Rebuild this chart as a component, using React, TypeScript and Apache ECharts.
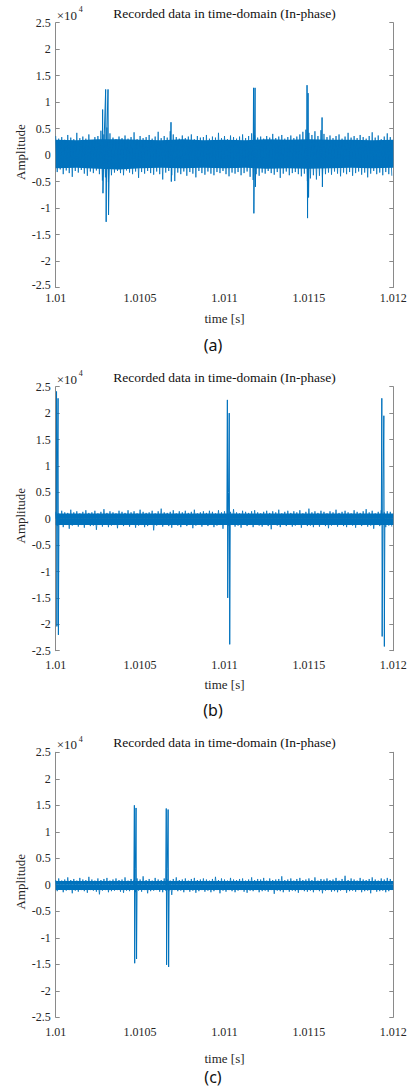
import React, { useEffect, useRef } from "react";
import * as echarts from "echarts";

// ---------- axes / texts ----------
const X_MIN_MS = 1010;
const X_MAX_MS = 1012;
const X_STEP_MS = 0.5;
const Y_MIN = -25000;
const Y_MAX = 25000;
const Y_STEP = 5000;
const TITLE = "Recorded data in time-domain (In-phase)";
const X_NAME = "time [s]";
const Y_NAME = "Amplitude";
const EXP_BASE = "×10";
const EXP_POWER = "4";
const PANEL_LABELS = ["(a)", "(b)", "(c)"];

// ---------- dense noise core (upper / lower edge, every 0.125 ms) ----------
const A_CORE_HI = [2900, 2800, 3000, 3000, 2900, 2800, 3000, 2800, 2900, 2800, 3000, 2900, 3000, 2900, 2900, 2800, 2900];
const A_CORE_LO = [-2500, -2400, -2600, -2700, -2500, -2400, -2500, -2400, -2500, -2400, -2600, -2500, -2600, -2500, -2400, -2500, -2400];
const B_CORE_HI = [1000, 1000, 1000, 1000, 1000, 1000, 1000, 1000, 1000, 1000, 1000, 1000, 1000, 1000, 1000, 1000, 1000];
const B_CORE_LO = [-1200, -1200, -1200, -1200, -1200, -1200, -1200, -1200, -1200, -1200, -1200, -1200, -1200, -1200, -1200, -1200, -1200];
const C_CORE_HI = [700, 700, 700, 700, 700, 700, 700, 700, 700, 700, 700, 700, 700, 700, 700, 700, 700];
const C_CORE_LO = [-1000, -1000, -1000, -1000, -1000, -1000, -1000, -1000, -1000, -1000, -1000, -1000, -1000, -1000, -1000, -1000, -1000];

// ---------- noise envelope (peaks / troughs) ----------
const A_TOP = [
  3600, 3100, 3400, 2900, 3800, 3300, 3000, 4200, 3200, 3500,
  3100, 3900, 2800, 3400, 3600, 4600, 3900, 5200, 4100, 3300,
  3000, 3500, 3200, 3700, 3100, 3400, 4300, 3000, 3600, 3200,
  3400, 3800, 3100, 3500, 4400, 3200, 3600, 3300, 4500, 3900,
  3400, 3100, 3700, 3200, 3500, 3900, 3000, 3600, 3300, 3400,
  3800, 3100, 3500, 3300, 4200, 3200, 3600, 3000, 3700, 3400,
  3100, 3500, 3900, 3200, 3600, 4100, 3700, 3300, 3500, 3100,
  3600, 3300, 4000, 3200, 3500, 3800, 3100, 3400, 3700, 3200,
  3500, 3900, 4400, 4800, 4200, 3800, 4500, 3600, 4700, 4000,
  3400, 3700, 3200, 3600, 3900, 3100, 3500, 4200, 3300, 3600,
  3200, 3800, 3400, 3100, 3600, 4300, 3300, 3700, 3000, 3500,
  4100, 3400,
];
const A_BOT = [
  -3200, -2700, -3600, -2900, -3400, -4100, -3000, -3300, -2800, -3500,
  -3900, -3100, -3400, -2900, -3600, -4800, -4200, -5100, -3800, -3300,
  -3000, -3400, -3800, -2900, -3300, -3600, -3100, -4300, -3200, -3500,
  -3000, -3400, -3700, -3100, -3600, -4600, -3300, -3000, -3800, -4900,
  -3300, -3600, -3100, -3900, -3200, -3500, -4200, -3000, -3400, -3700,
  -3100, -3500, -3800, -3200, -3400, -3000, -3600, -4000, -3300, -3500,
  -3200, -3800, -3400, -3100, -4100, -4700, -3600, -3900, -3300, -3500,
  -3000, -3400, -3700, -3200, -4300, -3500, -3100, -3800, -3400, -3200,
  -3600, -4000, -3500, -4900, -4400, -3800, -4600, -3900, -4200, -3600,
  -3300, -3700, -3100, -3500, -4000, -3300, -3600, -3200, -3900, -3400,
  -3100, -3700, -3300, -4200, -3500, -3000, -3600, -3300, -3800, -3200,
  -3600, -3900,
];
const B_TOP = [
  1300, 1000, 1500, 1200, 1100, 1700, 1200, 1400, 1000, 1300,
  1600, 1100, 1200, 1500, 1000, 1300, 1800, 1100, 1400, 1200,
  1000, 1500, 1300, 1100, 1600, 1200, 1400, 1000, 1700, 1300,
  1100, 1200, 1500, 1000, 1400, 1900, 1200, 1100, 1300, 1600,
  1000, 1400, 1200, 1500, 1100, 1300, 1700, 1000, 1200, 1400,
  1100, 1500, 1300, 1000, 1600, 1200, 1400, 1100, 1300, 1800,
  1200, 1000, 1500, 1300, 1100, 1400, 1600, 1200, 1000, 1300,
  1500, 1100, 1400, 1200, 1700, 1000, 1300, 1500, 1100, 1400,
  1200, 1600, 1000, 1300, 1900, 1200, 1400, 1100, 1500, 1300,
  1000, 1400, 1200, 1700, 1100, 1300, 1500, 1200, 1000, 1600,
  1300, 1100, 1400, 1800, 1200, 1500, 1000, 1300, 1600, 1200,
  1400, 1300,
];
const B_BOT = [
  -1400, -1100, -1600, -1200, -1900, -1300, -1000, -1500, -1200, -1700,
  -1100, -1400, -1300, -2100, -1200, -1500, -1000, -1600, -1300, -1200,
  -1800, -1100, -1400, -1200, -1500, -1000, -1700, -1300, -1200, -1600,
  -1400, -1100, -2200, -1300, -1200, -1500, -1100, -1400, -1700, -1200,
  -1300, -1600, -1000, -1400, -1200, -1800, -1300, -1100, -1500, -1200,
  -1400, -1000, -1600, -1300, -1200, -1900, -1100, -1400, -1200, -1500,
  -1300, -1700, -1100, -1400, -1200, -1600, -1000, -1300, -1500, -1200,
  -1400, -2000, -1100, -1300, -1600, -1200, -1400, -1000, -1500, -1300,
  -1200, -1700, -1100, -1400, -1300, -1600, -1200, -1500, -1100, -1400,
  -1800, -1300, -1200, -1500, -1000, -1400, -1600, -1200, -1300, -1700,
  -1100, -1400, -1200, -1500, -1300, -1900, -1200, -1400, -1100, -1600,
  -1300, -1500,
];
const C_TOP = [
  900, 1200, 800, 1000, 1400, 900, 1100, 800, 1300, 1000,
  900, 1500, 1000, 800, 1200, 900, 1100, 1300, 800, 1000,
  1200, 900, 1000, 1400, 800, 1100, 900, 1200, 1000, 1600,
  900, 1100, 800, 1300, 1000, 900, 1200, 1000, 800, 1100,
  1400, 900, 1000, 1200, 800, 1100, 1300, 900, 1000, 1200,
  1000, 800, 1100, 1500, 900, 1200, 1000, 800, 1300, 1000,
  900, 1100, 1200, 800, 1000, 1400, 900, 1100, 1000, 1300,
  800, 1200, 900, 1000, 1100, 1600, 900, 1000, 1200, 800,
  1100, 1300, 900, 1000, 1200, 900, 1400, 800, 1100, 1000,
  1200, 900, 1000, 1300, 800, 1100, 1700, 900, 1200, 1000,
  800, 1300, 1000, 900, 1100, 1400, 1000, 800, 1200, 1000,
  1300, 1100,
];
const C_BOT = [
  -1200, -900, -1400, -1100, -1000, -1600, -1100, -1300, -1000, -1200,
  -1500, -1000, -1100, -1300, -1800, -1100, -1000, -1400, -1200, -1100,
  -1000, -1300, -1500, -1100, -1200, -1000, -1400, -1100, -1300, -1000,
  -1600, -1200, -1100, -1000, -1300, -1400, -1100, -1200, -1900, -1000,
  -1200, -1100, -1400, -1000, -1300, -1100, -1500, -1200, -1000, -1300,
  -1100, -1400, -1200, -1000, -1600, -1100, -1300, -1000, -1200, -1400,
  -1100, -1000, -1300, -1500, -1100, -1200, -1000, -1400, -1200, -1100,
  -1300, -1000, -1700, -1100, -1200, -1400, -1000, -1300, -1100, -1200,
  -1500, -1000, -1200, -1300, -1100, -1400, -1000, -1200, -1600, -1100,
  -1000, -1300, -1200, -1400, -1100, -1000, -1500, -1200, -1100, -1300,
  -1000, -1400, -1200, -1100, -1600, -1000, -1300, -1200, -1100, -1400,
  -1200, -1000,
];

// ---------- spike bursts (time in ms, amplitude) ----------
const A_SPIKE_T = [
  1010.276, 1010.278, 1010.280, 1010.286, 1010.296, 1010.299, 1010.303, 1010.310, 1010.313, 1010.318, null,
  1010.681, 1010.683, 1010.685, 1010.687, null,
  1011.170, 1011.172, 1011.174, 1011.178, 1011.181, 1011.183, 1011.186, null,
  1011.487, 1011.489, 1011.492, 1011.495, 1011.498, 1011.501, null,
  1011.576, 1011.578, 1011.580, 1011.582,
];
const A_SPIKE_V = [
  0, 8600, -7200, 2000, 12400, -12600, 4000, 12400, -11300, 0, null,
  0, 6200, -5000, 0, null,
  0, 12700, -11000, 3000, 12700, -6000, 0, null,
  0, 13200, -11900, 11700, -8000, 0, null,
  0, 7100, -6000, 0,
];
const B_SPIKE_T = [
  1010.003, 1010.005, 1010.007, 1010.010, 1010.014, 1010.016, 1010.019, null,
  1011.014, 1011.017, 1011.019, 1011.024, 1011.028, 1011.031, 1011.034, null,
  1011.929, 1011.932, 1011.934, 1011.939, 1011.944, 1011.947, 1011.950,
];
const B_SPIKE_V = [
  0, 24100, -20400, 10000, 22800, -22000, 0, null,
  0, 22500, -15000, 5000, 20000, -23800, 0, null,
  0, 22800, -22300, 6000, 19500, -24200, 0,
];
const C_SPIKE_T = [
  1010.463, 1010.466, 1010.468, 1010.472, 1010.476, 1010.479, 1010.482, null,
  1010.652, 1010.655, 1010.657, 1010.661, 1010.666, 1010.669, 1010.672,
];
const C_SPIKE_V = [
  0, 15000, -14800, 3000, 14500, -14000, 0, null,
  0, 14400, -15100, 3000, 14200, -15500, 0,
];

// ---------- layout ----------
const LINE_COLOR = "#0072BD";
const AXIS_COLOR = "#8a8a8a";
const TEXT_COLOR = "#262626";
const SERIF = "'Liberation Serif', 'Times New Roman', serif";
const GRID_LEFT = 55.7;
const GRID_WIDTH = 337.6;
const LAYOUT = [
  { top: 22.7, height: 264.8, labelMargin: 4.5, liftMin: true, nameY: 318, capY: 345 },
  { top: 386.7, height: 264.0, labelMargin: 8, liftMin: false, nameY: 684, capY: 710 },
  { top: 752.3, height: 265.0, labelMargin: 8.5, liftMin: false, nameY: 1058, capY: 1077 },
];

const PANEL_DATA = [
  { top: A_TOP, bot: A_BOT, hi: A_CORE_HI, lo: A_CORE_LO, st: A_SPIKE_T, sv: A_SPIKE_V },
  { top: B_TOP, bot: B_BOT, hi: B_CORE_HI, lo: B_CORE_LO, st: B_SPIKE_T, sv: B_SPIKE_V },
  { top: C_TOP, bot: C_BOT, hi: C_CORE_HI, lo: C_CORE_LO, st: C_SPIKE_T, sv: C_SPIKE_V },
];

function zigzag(top: number[], bot: number[]) {
  const n = top.length;
  const dt = (X_MAX_MS - X_MIN_MS) / n;
  const out: number[][] = [];
  for (let i = 0; i < n; i++) {
    out.push([X_MIN_MS + i * dt, top[i]]);
    out.push([X_MIN_MS + (i + 0.5) * dt, bot[i]]);
  }
  return out;
}

function edge(vals: number[]) {
  const dt = (X_MAX_MS - X_MIN_MS) / (vals.length - 1);
  return vals.map((v, i) => [X_MIN_MS + i * dt, v]);
}

function spikes(t: (number | null)[], v: (number | null)[]) {
  return t.map((x, i) => (x === null ? [null, null] : [x, v[i]]));
}

export default function App() {
  const ref = useRef<HTMLDivElement>(null);
  useEffect(() => {
    if (!ref.current) return;
    const chart = echarts.init(ref.current, undefined, { renderer: "svg" });
    const grids: any[] = [];
    const xAxes: any[] = [];
    const yAxes: any[] = [];
    const series: any[] = [];
    const graphic: any[] = [];
    const xFmt = (v: number) => String(+(v / 1000).toFixed(5));
    LAYOUT.forEach((L, p) => {
      const yFmt = (v: number) => {
        const s = String(v / 10000);
        return L.liftMin && v === Y_MIN ? `{lift|${s}}` : s;
      };
      grids.push({ left: GRID_LEFT, width: GRID_WIDTH, top: L.top, height: L.height, containLabel: false });
      const common = {
        type: "value",
        gridIndex: p,
        axisLine: { show: true, lineStyle: { color: AXIS_COLOR, width: 1 } },
        axisTick: { show: true, inside: true, length: 4, lineStyle: { color: AXIS_COLOR } },
        splitLine: { show: false },
      };
      xAxes.push({
        ...common,
        position: "bottom",
        min: X_MIN_MS,
        max: X_MAX_MS,
        interval: X_STEP_MS,
        axisLabel: { show: true, formatter: xFmt, margin: L.labelMargin, color: TEXT_COLOR, fontFamily: SERIF, fontSize: 12 },
      });
      xAxes.push({
        ...common,
        position: "top",
        min: X_MIN_MS,
        max: X_MAX_MS,
        interval: X_STEP_MS,
        axisLabel: { show: false },
      });
      yAxes.push({
        ...common,
        position: "left",
        min: Y_MIN,
        max: Y_MAX,
        interval: Y_STEP,
        axisLabel: {
          show: true,
          formatter: yFmt,
          margin: 5,
          color: TEXT_COLOR,
          fontFamily: SERIF,
          fontSize: 12,
          rich: { lift: { color: TEXT_COLOR, fontFamily: SERIF, fontSize: 12, padding: [0, 0, 5, 0] } },
        },
      });
      yAxes.push({
        ...common,
        position: "right",
        min: Y_MIN,
        max: Y_MAX,
        interval: Y_STEP,
        axisLabel: { show: false },
      });
      const D = PANEL_DATA[p];
      const areaSeries = (vals: number[]) => ({
        type: "line",
        xAxisIndex: 2 * p,
        yAxisIndex: 2 * p,
        data: edge(vals),
        showSymbol: false,
        symbol: "none",
        lineStyle: { width: 0, opacity: 0 },
        areaStyle: { color: LINE_COLOR, opacity: 1, origin: 0 },
        silent: true,
        z: 1,
      });
      series.push(areaSeries(D.hi));
      series.push(areaSeries(D.lo));
      series.push({
        type: "line",
        xAxisIndex: 2 * p,
        yAxisIndex: 2 * p,
        data: zigzag(D.top, D.bot),
        showSymbol: false,
        symbol: "none",
        lineStyle: { color: LINE_COLOR, width: 0.8 },
        silent: true,
        z: 2,
      });
      series.push({
        type: "line",
        xAxisIndex: 2 * p,
        yAxisIndex: 2 * p,
        data: spikes(D.st, D.sv),
        showSymbol: false,
        symbol: "none",
        connectNulls: false,
        lineStyle: { color: LINE_COLOR, width: 1 },
        silent: true,
        z: 3,
      });
      const cx = GRID_LEFT + GRID_WIDTH / 2;
      graphic.push({
        type: "text",
        x: cx,
        y: L.top - 9.6,
        style: { text: TITLE, align: "center", verticalAlign: "middle", fill: "#111", font: `13.5px ${SERIF}` },
      });
      graphic.push({
        type: "text",
        x: GRID_LEFT + 1,
        y: L.top - 7.5,
        style: { text: EXP_BASE, align: "left", verticalAlign: "middle", fill: TEXT_COLOR, font: `13px ${SERIF}` },
      });
      graphic.push({
        type: "text",
        x: GRID_LEFT + 23,
        y: L.top - 13,
        style: { text: EXP_POWER, align: "left", verticalAlign: "middle", fill: TEXT_COLOR, font: `8px ${SERIF}` },
      });
      graphic.push({
        type: "text",
        x: 20,
        y: L.top + L.height / 2 - 3,
        rotation: Math.PI / 2,
        style: { text: Y_NAME, align: "center", verticalAlign: "middle", fill: TEXT_COLOR, font: `13px ${SERIF}` },
      });
      graphic.push({
        type: "text",
        x: cx,
        y: L.nameY,
        style: { text: X_NAME, align: "center", verticalAlign: "middle", fill: TEXT_COLOR, font: `13px ${SERIF}` },
      });
      graphic.push({
        type: "text",
        x: 213,
        y: L.capY,
        style: { text: PANEL_LABELS[p], align: "center", verticalAlign: "middle", fill: "#111", font: `16px 'Noto Sans', sans-serif` },
      });
    });
    chart.setOption({
      animation: false,
      backgroundColor: "#ffffff",
      grid: grids,
      xAxis: xAxes,
      yAxis: yAxes,
      series,
      graphic,
    });
    return () => chart.dispose();
  }, []);
  return (
    <div
      ref={ref}
      style={{ position: "absolute", left: 0, top: 0, width: 412, height: 1088, background: "#fff" }}
    />
  );
}
